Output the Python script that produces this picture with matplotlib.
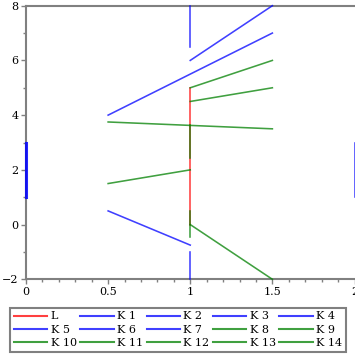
import matplotlib
matplotlib.use('Agg')
from matplotlib import pyplot as plt
from matplotlib.ticker import MultipleLocator

# segment data: name, colour, start and end point
names = ["L", "K 1", "K 2", "K 3", "K 4", "K 5", "K 6", "K 7",
         "K 8", "K 9", "K 10", "K 11", "K 12", "K 13", "K 14"]
colors = ["red"] + ["blue"] * 7 + ["green"] * 7
x0 = [1, 0, 2, 1, 1, 0.5, 0.5, 1, 0.5, 1, 1, 0.5, 1, 1, 1]
y0 = [5, 1, 1, 6.5, 6, 4, 0.5, -1, 3.75, 5, 4.5, 1.5, 0, 3.625, 0.5]
x1 = [1, 0, 2, 1, 1.5, 1.5, 1, 1, 1.5, 1.5, 1.5, 1, 1.5, 1, 1]
y1 = [0, 3, 3, 8, 8, 7, -0.75, -2, 3.5, 6, 5, 2, -2, 2.45, -0.45]

plt.rcParams['font.family'] = ['DejaVu Serif']
plt.rcParams['font.size'] = 8

fig = plt.figure(figsize=(3.55, 3.55), dpi=100)
ax = fig.add_axes([26 / 355, 1 - 279.3 / 355, 328.5 / 355, (279.3 - 5.7) / 355])

lines = []
for i in range(len(names)):
    ln, = ax.plot([x0[i], x1[i]], [y0[i], y1[i]], color=colors[i], alpha=0.75,
                  lw=1.15, label=names[i], clip_on=False, zorder=3)
    lines.append(ln)
# the x=0 segment sits on the axis line and looks thicker there
lines[1].set_linewidth(2.2)
lines[1].set_alpha(0.85)

ax.set_xlim(0, 2)
ax.set_ylim(-2, 8)
ax.xaxis.set_major_locator(MultipleLocator(0.5))
ax.xaxis.set_minor_locator(MultipleLocator(0.1))
ax.yaxis.set_major_locator(MultipleLocator(2))
ax.yaxis.set_minor_locator(MultipleLocator(1))
ax.set_xticks([0, 0.5, 1, 1.5, 2], ["0", "0.5", "1", "1.5", "2"])
ax.set_yticks([-2, 0, 2, 4, 6, 8], ["\u22122", "0", "2", "4", "6", "8"])
ax.tick_params(which='major', length=3.5, width=1, color='gray', pad=2)
ax.tick_params(which='minor', length=2, width=1, color='gray')

for s in ['left', 'bottom', 'top']:
    ax.spines[s].set_color('gray')
    ax.spines[s].set_linewidth(1.5)
ax.spines['right'].set_visible(False)

# legend filled row by row
ncol = 5
nrow = 3
order = [c + ncol * r for c in range(ncol) for r in range(nrow)]
leg = fig.legend([lines[k] for k in order], [names[k] for k in order],
                 ncol=ncol, loc='lower left', mode='expand',
                 bbox_to_anchor=(10 / 355, 3 / 355, 336 / 355, 47 / 355),
                 fancybox=False, edgecolor='gray', framealpha=1,
                 handlelength=3.0, handletextpad=0.3, columnspacing=0.5,
                 labelspacing=0.3, borderpad=0.35, borderaxespad=0)
leg.get_frame().set_linewidth(1.5)
for h in leg.get_lines():
    h.set_linewidth(1.5)
    h.set_alpha(0.75)

fig.savefig("out.png", dpi=100)
